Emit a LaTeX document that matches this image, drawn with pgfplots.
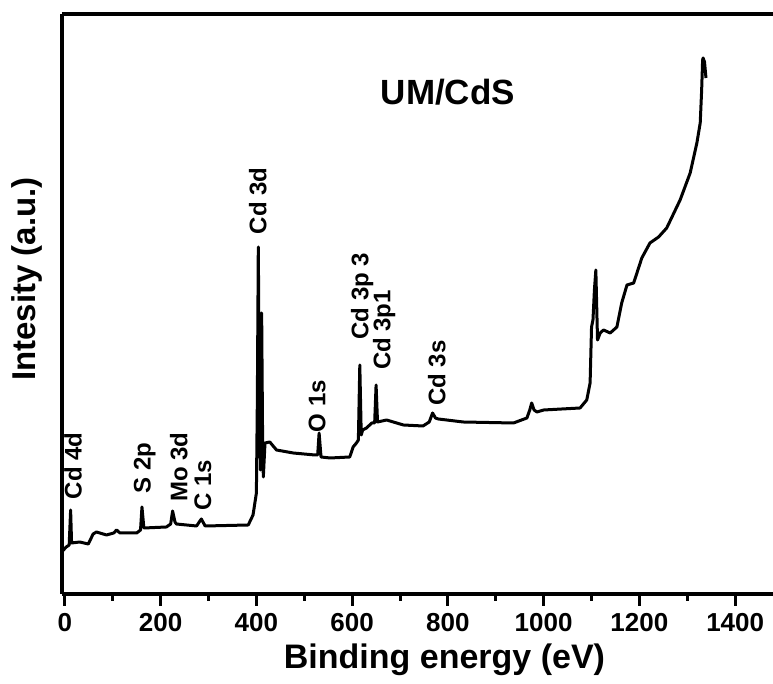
\documentclass[border=0pt]{standalone}
\usepackage{pgfplots}
\pgfplotsset{compat=1.18}
\usepackage{fontspec}
\setmainfont{Liberation Sans}

\begin{document}
\begin{tikzpicture}
  % page size in reference pixels (1 px = 0.5 pt), axis box at (0,0)
  \path[use as bounding box] (-31pt,-45pt) rectangle (355.5pt,297pt);
  \begin{axis}[
      at={(0pt,0pt)}, anchor=south west,
      scale only axis, width=355.5pt, height=290pt,
      xmin=-6, xmax=1479, ymin=0, ymax=580,
      axis x line=box, axis y line=left,
      axis line style={-, line width=2pt},
      xtick={0,200,...,1400}, minor x tick num=1,
      xtick pos=left, tick align=outside,
      major tick length=6pt, minor tick length=3.5pt,
      every tick/.style={black, line width=1.5pt},
      ytick=\empty,
      /pgf/number format/assume math mode=true,
      /pgf/number format/set thousands separator={},
      tick label style={font=\bfseries\fontsize{13}{15}\selectfont},
      xlabel={Binding energy (eV)},
      ylabel={Intesity (a.u.)},
      xlabel style={font=\bfseries\fontsize{17}{20}\selectfont,
        at={(axis description cs:0.538,-0.114)}, anchor=center},
      ylabel style={font=\bfseries\fontsize{16.5}{20}\selectfont,
        at={(axis description cs:-0.049,0.543)}, anchor=center},
      clip=false,
    ]
    \addplot[black, line width=1.5pt, line join=round] coordinates {
      (-7,42) (3,47) (9,49) (12,84) (14,51) (31,52) (49,50) (59,60) (66,62)
      (87,59) (102,61) (108,64) (115,61) (150,61) (158,64) (161,87) (165,66)
      (212,67) (221,70) (225,83) (230,72) (233,70) (275,68) (285,75) (293,68)
      (383,69) (393,79) (400,101) (402,194) (404,347) (406.5,174) (408.5,124)
      (411,281) (413,154) (414.5,117) (418,151) (428,152) (442,144) (477,141)
      (522,139) (528,139) (531,161) (535,137) (554,136) (595,137) (602,147)
      (609,151) (613,154) (616,229) (619,159) (622,164) (630,166) (641,171)
      (647,171) (650,209) (653,172) (672,174) (693,171) (707,169) (748,168)
      (761,172) (768,181) (774,176) (780,175) (832,172) (937,171) (965,176)
      (971,184) (975,191) (980,184) (986,182) (1000,184) (1076,186) (1090,194)
      (1097,211) (1100,267) (1103,274) (1106,304) (1109,324) (1112,264)
      (1112.5,254) (1118,261) (1125,264) (1139,261) (1153,267) (1163,291)
      (1174,309) (1188,311) (1205,336) (1222,351) (1240,357) (1257,366)
      (1285,394) (1306,421) (1320,451) (1327,471) (1330,504) (1332,534)
      (1333,536) (1336,532) (1339,516)
    };
    \begin{scope}[every node/.style={font=\bfseries\fontsize{12}{14}\selectfont, rotate=90, anchor=center}]
      \node at (axis cs:17,128) {Cd 4d};
      \node at (axis cs:167,126) {S 2p};
      \node at (axis cs:238,127) {Mo 3d};
      \node at (axis cs:288,109) {C 1s};
      \node at (axis cs:403,393) {Cd 3d};
      \node at (axis cs:527,188) {O 1s};
      \node at (axis cs:621,298) {Cd 3p 3};
      \node at (axis cs:667,264) {Cd 3p1};
      \node at (axis cs:777,221) {Cd 3s};
    \end{scope}
    \node[font=\bfseries\fontsize{17.5}{20}\selectfont] at (axis cs:800,502) {UM/CdS};
  \end{axis}
\end{tikzpicture}
\end{document}
